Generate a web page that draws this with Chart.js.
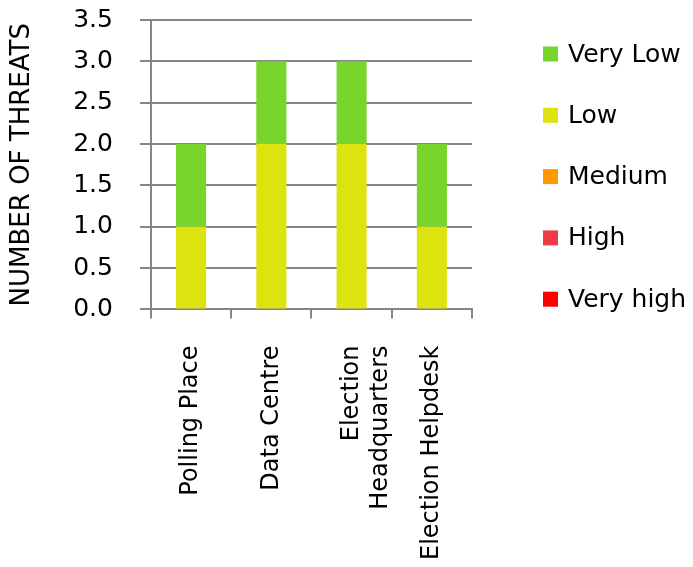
<!DOCTYPE html>
<html>
<head>
<meta charset="utf-8">
<script src="https://cdn.jsdelivr.net/npm/chart.js@4"></script>
<style>
  html, body { margin: 0; padding: 0; background: #fff; }
  #wrap { width: 693px; height: 567px; }
</style>
</head>
<body>
<div id="wrap"><canvas id="threatChart" width="693" height="567"></canvas></div>
<script>
// categories (locations)
const locations = ["Polling Place", "Data Centre", ["Election", "Headquarters"], "Election Helpdesk"];

// threat counts per level, bottom of the stack first
const veryHigh = [0, 0, 0, 0];
const high = [0, 0, 0, 0];
const medium = [0, 0, 0, 0];
const low = [1, 2, 2, 1];
const veryLow = [1, 1, 1, 1];

const yTicks = [0, 0.5, 1, 1.5, 2, 2.5, 3, 3.5];

const FONT = "'DejaVu Sans', sans-serif";
const GRID = "#858585";

function series(label, data, color) {
    return {
        label: label,
        data: data,
        backgroundColor: color,
        borderWidth: 0,
        categoryPercentage: 1,
        barPercentage: 0.375
    };
}

// legend on the right, top series first (like the spreadsheet one)
const sideLegend = {
    id: "sideLegend",
    afterDraw(c) {
        const g = c.ctx;
        const sets = c.data.datasets.slice().reverse();
        const boxX = c.chartArea.right + 71;
        const firstY = 54;
        const step = 61.3;
        g.save();
        g.font = "25px " + FONT;
        g.textBaseline = "middle";
        g.textAlign = "left";
        sets.forEach((ds, i) => {
            const y = firstY + i * step;
            g.fillStyle = ds.backgroundColor;
            g.fillRect(boxX, y - 7.5, 15, 15);
            g.fillStyle = "#000";
            g.fillText(ds.label, boxX + 25, y + 1);
        });
        g.restore();
    }
};

const ctx = document.getElementById("threatChart").getContext("2d");

const chart = new Chart(ctx, {
    type: "bar",
    data: {
        labels: locations,
        datasets: [
            series("Very high", veryHigh, "#ff0000"),
            series("High", high, "#f03a46"),
            series("Medium", medium, "#ff9900"),
            series("Low", low, "#dde30e"),
            series("Very Low", veryLow, "#77d52b")
        ]
    },
    plugins: [sideLegend],
    options: {
        responsive: false,
        animation: false,
        layout: {
            padding: { top: 0, left: 0, right: 221, bottom: -20 }
        },
        plugins: {
            tooltip: { enabled: false },
            legend: { display: false }
        },
        scales: {
            x: {
                stacked: true,
                offset: true,
                grid: {
                    offset: true,
                    drawOnChartArea: false,
                    drawTicks: true,
                    tickLength: 9,
                    color: GRID,
                    lineWidth: 2
                },
                border: { display: true, color: GRID, width: 2 },
                ticks: {
                    minRotation: 90,
                    maxRotation: 90,
                    padding: 27,
                    color: "#000",
                    font: { family: FONT, size: 24, lineHeight: 1.2 }
                }
            },
            y: {
                stacked: true,
                min: 0,
                max: 3.5,
                afterBuildTicks: function (axis) {
                    axis.ticks = yTicks.map(v => ({ value: v }));
                },
                // tick padding would otherwise push the top of the plot down
                afterFit: function (axis) {
                    axis.paddingTop = 20;
                },
                grid: {
                    color: GRID,
                    lineWidth: 2,
                    tickLength: 11
                },
                border: { display: true, color: GRID, width: 2 },
                ticks: {
                    padding: 27,
                    color: "#000",
                    font: { family: FONT, size: 25 },
                    callback: v => v.toFixed(1)
                },
                title: {
                    display: true,
                    text: "NUMBER OF THREATS",
                    color: "#000",
                    font: { family: FONT, size: 26 },
                    padding: { top: 7, bottom: 8 }
                }
            }
        }
    }
});
</script>
</body>
</html>
